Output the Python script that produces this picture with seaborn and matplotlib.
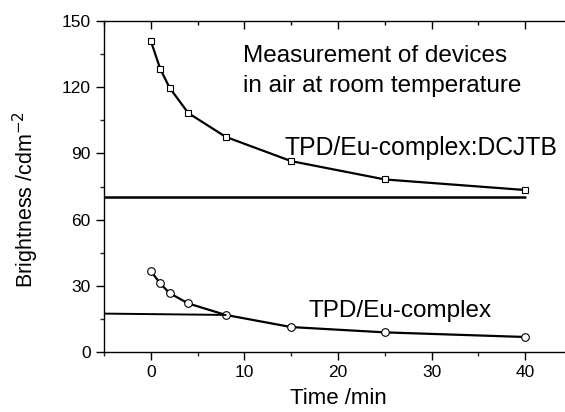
import matplotlib
matplotlib.use("Agg")
import matplotlib.pyplot as plt
import seaborn as sns
import pandas as pd
from matplotlib.ticker import MultipleLocator

time_min = [0, 1, 2, 4, 8, 15, 25, 40]
dcjtb = [141.0, 128.4, 119.8, 108.3, 97.5, 86.5, 78.2, 73.4]
eu = [36.7, 31.1, 26.7, 22.0, 16.8, 11.3, 8.9, 6.8]
hline_x1 = [-5, 40]
hline_y1 = [70.2, 70.2]
hline_x2 = [-5, 8]
hline_y2 = [17.4, 16.8]

sns.set_theme(style="white")
plt.rcParams['font.family'] = ['Liberation Sans', 'DejaVu Sans']

fig = plt.figure(figsize=(5.65, 4.12), dpi=100)
ax = fig.add_axes([104/565, (412-352)/412, (572-104)/565, (352-21)/412])

df1 = pd.DataFrame({"t": time_min, "b": dcjtb})
df2 = pd.DataFrame({"t": time_min, "b": eu})
sns.lineplot(data=df1, x="t", y="b", ax=ax, color="black", lw=1.6,
             marker="s", markersize=5, markerfacecolor="white",
             markeredgecolor="black", markeredgewidth=0.8)
sns.lineplot(data=df2, x="t", y="b", ax=ax, color="black", lw=1.6,
             marker="o", markersize=5.5, markerfacecolor="white",
             markeredgecolor="black", markeredgewidth=0.8)
sns.lineplot(x=hline_x1, y=hline_y1, ax=ax, color="black", lw=1.8)
sns.lineplot(x=hline_x2, y=hline_y2, ax=ax, color="black", lw=1.4)

ax.set_xlim(-5, 45)
ax.set_ylim(0, 150)
ax.set_xticks([0, 10, 20, 30, 40])
ax.xaxis.set_minor_locator(MultipleLocator(5))
ax.yaxis.set_major_locator(MultipleLocator(30))
ax.yaxis.set_minor_locator(MultipleLocator(15))

for s in ["left", "bottom", "top"]:
    ax.spines[s].set_visible(True)
    ax.spines[s].set_color("black")
    ax.spines[s].set_linewidth(1.0)
ax.spines["right"].set_visible(False)

ax.tick_params(axis="both", which="major", direction="out", length=6, width=1,
               labelsize=12.5, colors="black", bottom=True, left=True, top=False)
ax.tick_params(axis="both", which="minor", direction="out", length=3, width=1,
               bottom=True, left=True, top=False)

top = ax.secondary_xaxis("top")
top.set_xticks([0, 10, 20, 30, 40])
top.xaxis.set_minor_locator(MultipleLocator(5))
top.tick_params(which="major", direction="in", length=6, width=1, labeltop=False, colors="black")
top.tick_params(which="minor", direction="in", length=3, width=1, colors="black")
top.spines["top"].set_visible(False)

ax.set_xlabel("Time /min", fontsize=16, color="black")
ax.xaxis.set_label_coords(0.5, -0.11)
ax.set_ylabel("Brightness /cdm$^{-2}$", fontsize=15.5, color="black")
ax.yaxis.set_label_coords(-0.135, 0.46)

ax.text(9.85, 131.5, "Measurement of devices", fontsize=17.5, color="black",
        va="baseline", ha="left")
ax.text(9.85, 117.9, "in air at room temperature", fontsize=17.5, color="black",
        va="baseline", ha="left")
ax.text(14.3, 89.3, "TPD/Eu-complex:DCJTB", fontsize=17.8, color="black",
        va="baseline", ha="left")
ax.text(16.8, 16.0, "TPD/Eu-complex", fontsize=17.5, color="black",
        va="baseline", ha="left")

fig.savefig("out.png", dpi=100)
